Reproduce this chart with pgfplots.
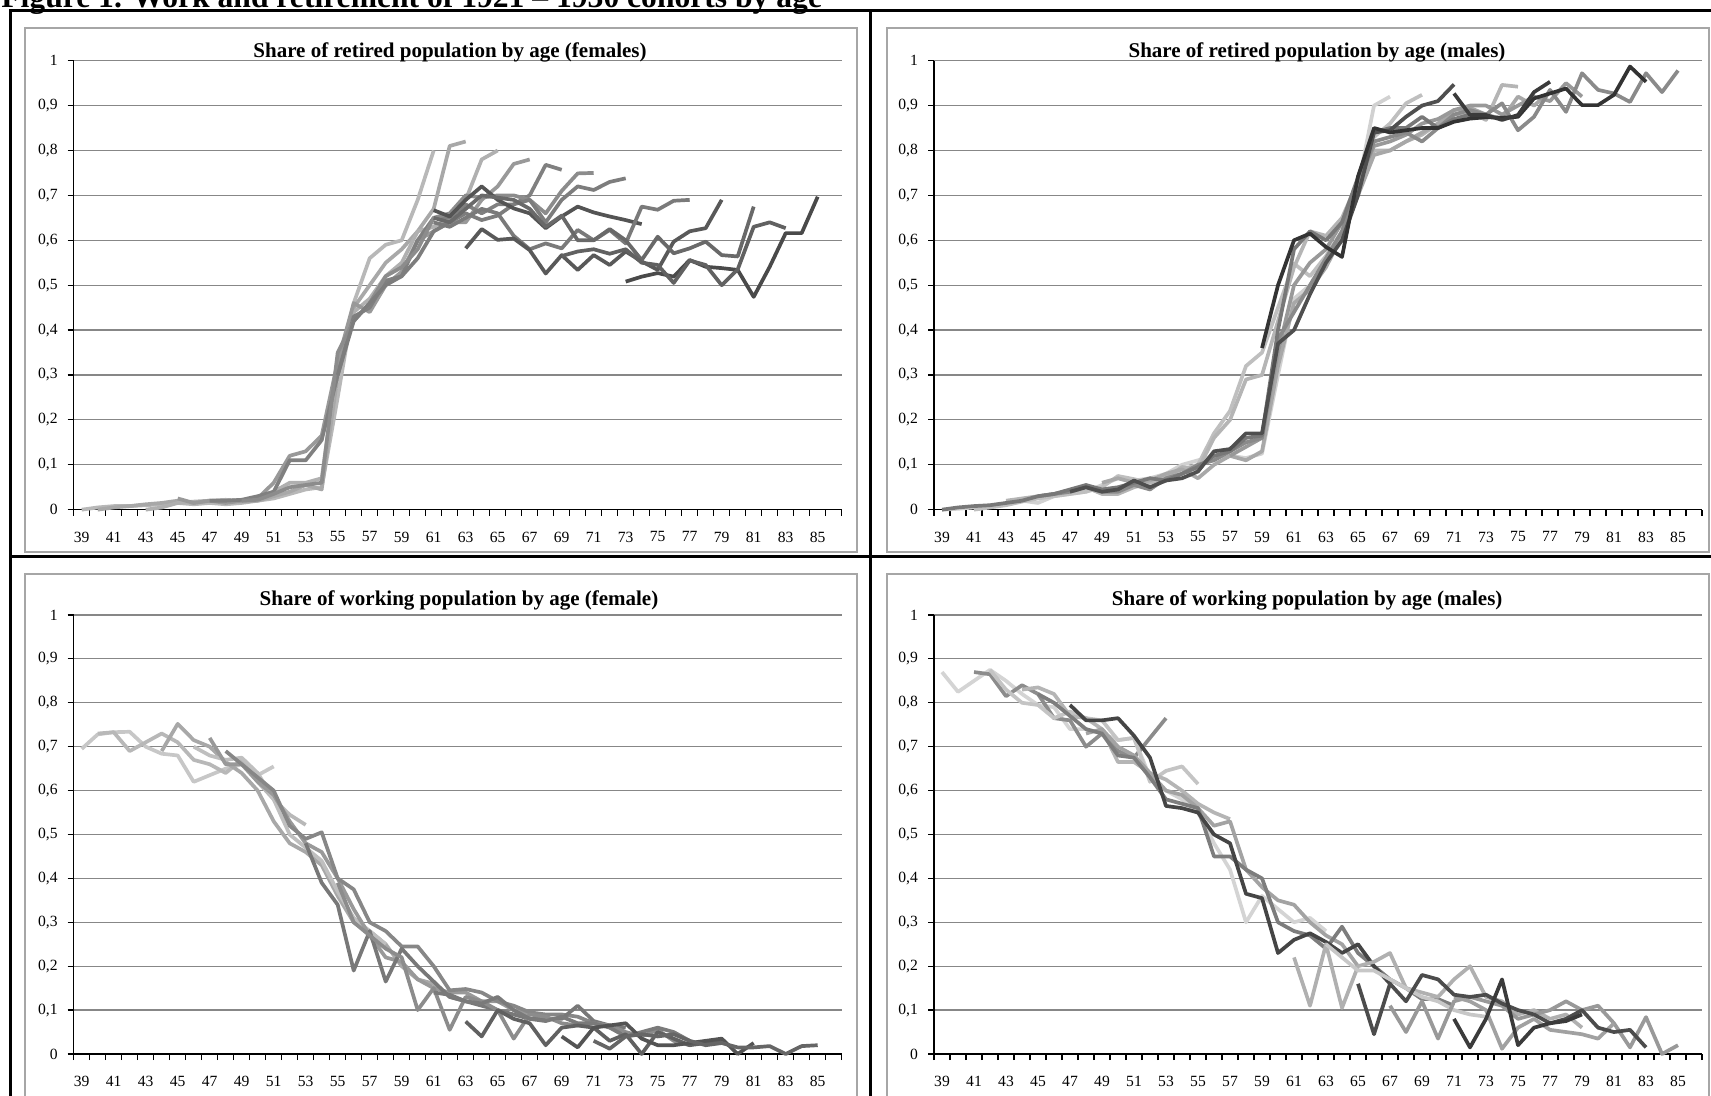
\documentclass[border=0pt]{standalone}
\usepackage{fontspec}
\setmainfont{Liberation Serif}
\usepackage{pgfplots}
\pgfplotsset{compat=1.18}
\pgfplotsset{
 panel/.style={
   scale only axis, width=384pt,
   xmin=38.5, xmax=86.5, ymin=0, ymax=1,
   axis x line*=bottom, axis y line*=left,
   axis line style={black, line width=0.7pt, -},
   xtick={39,41,...,85},
   minor xtick={38.5,39.5,...,86.5},
   ytick={0,0.1,0.2,0.3,0.4,0.5,0.6,0.7,0.8,0.9,1},
   yticklabels={0,{0,1},{0,2},{0,3},{0,4},{0,5},{0,6},{0,7},{0,8},{0,9},1},
   tick align=outside,
   major tick length=3pt, minor tick length=3pt,
   tick style={black, line width=0.6pt},
   major x tick style={draw=none},
   ymajorgrids, grid style={color=black!47, line width=0.6pt},
   tick label style={font=\fontsize{7.8}{9}\selectfont},
   /pgf/number format/assume math mode=true,
   xticklabel style={yshift=-4.5pt},
   yticklabel style={xshift=-1.5pt},
   clip=false,
   every axis plot/.append style={line width=1.85pt, line join=round},
 }}
\begin{document}
\begin{tikzpicture}
\path[use as bounding box] (0,0) rectangle (855.5pt,548pt);
% figure title (cut at top, as in the source)
\node[anchor=base west, inner sep=0pt, font=\fontsize{15.8}{17}\selectfont\bfseries] at (0.5pt,544pt) {Figure 1. Work and retirement of 1921 – 1930 cohorts by age};
% chart frames
\draw[black!35, line width=0.8pt] (12.5pt,272pt) rectangle (428.5pt,534pt);
\draw[black!35, line width=0.8pt] (443.5pt,272pt) rectangle (854.5pt,534pt);
\draw[black!35, line width=0.8pt] (12.5pt,-5pt) rectangle (428.5pt,261pt);
\draw[black!35, line width=0.8pt] (443.5pt,-5pt) rectangle (854.5pt,261pt);
% table lines
\draw[black, line width=1.5pt] (5pt,-5pt) -- (5pt,542.65pt) -- (870pt,542.65pt);
\draw[black, line width=1.5pt] (435.25pt,-5pt) -- (435.25pt,542.65pt);
\draw[black, line width=1.5pt] (5pt,269.75pt) -- (870pt,269.75pt);

% ---------------- Top left: retired females
\begin{axis}[panel, height=224.5pt, at={(36.85pt,293.15pt)}, anchor=south west]
\addplot[black!28] coordinates {(39,0.000)(40,0.005)(41,0.008)(42,0.008)(43,0.010)(44,0.012)(45,0.015)(46,0.012)(47,0.015)(48,0.012)(49,0.015)(50,0.020)(51,0.025)(52,0.035)(53,0.045)(54,0.050)(55,0.250)(56,0.460)(57,0.560)(58,0.590)(59,0.600)(60,0.690)(61,0.800)};
\addplot[black!34] coordinates {(40,0.000)(41,0.005)(42,0.008)(43,0.012)(44,0.015)(45,0.020)(46,0.015)(47,0.020)(48,0.020)(49,0.018)(50,0.020)(51,0.030)(52,0.040)(53,0.055)(54,0.045)(55,0.300)(56,0.450)(57,0.500)(58,0.550)(59,0.580)(60,0.620)(61,0.670)(62,0.810)(63,0.820)};
\addplot[black!31] coordinates {(43,0.000)(44,0.005)(45,0.015)(46,0.018)(47,0.020)(48,0.022)(49,0.020)(50,0.025)(51,0.040)(52,0.060)(53,0.060)(54,0.070)(55,0.330)(56,0.440)(57,0.470)(58,0.520)(59,0.550)(60,0.620)(61,0.630)(62,0.650)(63,0.690)(64,0.780)(65,0.800)};
\addplot[black!40] coordinates {(45,0.025)(46,0.015)(47,0.020)(48,0.015)(49,0.020)(50,0.025)(51,0.060)(52,0.120)(53,0.130)(54,0.165)(55,0.330)(56,0.460)(57,0.440)(58,0.500)(59,0.530)(60,0.600)(61,0.620)(62,0.640)(63,0.640)(64,0.690)(65,0.720)(66,0.770)(67,0.780)};
\addplot[black!50] coordinates {(47,0.020)(48,0.020)(49,0.022)(50,0.030)(51,0.040)(52,0.110)(53,0.110)(54,0.155)(55,0.300)(56,0.430)(57,0.450)(58,0.510)(59,0.520)(60,0.600)(61,0.650)(62,0.650)(63,0.680)(64,0.660)(65,0.680)(66,0.680)(67,0.700)(68,0.768)(69,0.757)};
\addplot[black!45] coordinates {(49,0.020)(50,0.022)(51,0.035)(52,0.050)(53,0.055)(54,0.060)(55,0.350)(56,0.420)(57,0.460)(58,0.520)(59,0.540)(60,0.580)(61,0.650)(62,0.660)(63,0.700)(64,0.695)(65,0.700)(66,0.700)(67,0.690)(68,0.660)(69,0.710)(70,0.749)(71,0.750)};
\addplot[black!51] coordinates {(55,0.300)(56,0.420)(57,0.460)(58,0.500)(59,0.520)(60,0.560)(61,0.620)(62,0.640)(63,0.660)(64,0.645)(65,0.655)(66,0.680)(67,0.690)(68,0.640)(69,0.690)(70,0.720)(71,0.712)(72,0.730)(73,0.738)};
\addplot[black!67] coordinates {(61,0.667)(62,0.653)(63,0.690)(64,0.720)(65,0.690)(66,0.671)(67,0.660)(68,0.627)(69,0.653)(70,0.675)(71,0.662)(72,0.653)(73,0.645)(74,0.636)};
\addplot[black!52] coordinates {(61,0.640)(62,0.630)(63,0.650)(64,0.670)(65,0.660)(66,0.610)(67,0.580)(68,0.593)(69,0.582)(70,0.623)(71,0.600)(72,0.623)(73,0.593)(74,0.675)(75,0.668)(76,0.688)(77,0.690)};
\addplot[black!65] coordinates {(63,0.582)(64,0.625)(65,0.601)(66,0.604)(67,0.578)(68,0.526)(69,0.567)(70,0.534)(71,0.567)(72,0.545)(73,0.575)(74,0.553)(75,0.534)(76,0.597)(77,0.620)(78,0.627)(79,0.690)};
\addplot[black!59] coordinates {(61,0.650)(62,0.640)(63,0.670)(64,0.700)(65,0.695)(66,0.690)(67,0.670)(68,0.630)(69,0.655)(70,0.600)(71,0.600)(72,0.625)(73,0.600)(74,0.556)(75,0.608)(76,0.571)(77,0.582)(78,0.597)(79,0.567)(80,0.564)(81,0.675)};
\addplot[black!71] coordinates {(73,0.508)(74,0.519)(75,0.527)(76,0.519)(77,0.556)(78,0.541)(79,0.538)(80,0.534)(81,0.474)(82,0.541)(83,0.616)(84,0.616)(85,0.697)};
\addplot[black!62] coordinates {(69,0.565)(70,0.575)(71,0.580)(72,0.570)(73,0.580)(74,0.550)(75,0.545)(76,0.505)(77,0.555)(78,0.545)(79,0.500)(80,0.535)(81,0.630)(82,0.640)(83,0.627)};
\end{axis}

% ---------------- Top right: retired males
\begin{axis}[panel, height=224.5pt, at={(467pt,293.15pt)}, anchor=south west]
\addplot[black!18] coordinates {(39,0.000)(40,0.002)(41,0.005)(42,0.008)(43,0.012)(44,0.020)(45,0.015)(46,0.030)(47,0.035)(48,0.040)(49,0.055)(50,0.070)(51,0.065)(52,0.070)(53,0.080)(54,0.100)(55,0.110)(56,0.120)(57,0.120)(58,0.115)(59,0.125)(60,0.300)(61,0.470)(62,0.500)(63,0.550)(64,0.620)(65,0.720)(66,0.900)(67,0.920)};
\addplot[black!25] coordinates {(41,0.000)(42,0.005)(43,0.010)(44,0.018)(45,0.025)(46,0.030)(47,0.035)(48,0.040)(49,0.050)(50,0.075)(51,0.068)(52,0.060)(53,0.075)(54,0.090)(55,0.100)(56,0.170)(57,0.220)(58,0.320)(59,0.350)(60,0.450)(61,0.548)(62,0.520)(63,0.565)(64,0.620)(65,0.720)(66,0.830)(67,0.860)(68,0.905)(69,0.924)};
\addplot[black!29] coordinates {(43,0.020)(44,0.025)(45,0.030)(46,0.035)(47,0.040)(48,0.050)(49,0.035)(50,0.035)(51,0.050)(52,0.060)(53,0.070)(54,0.095)(55,0.090)(56,0.160)(57,0.200)(58,0.290)(59,0.300)(60,0.420)(61,0.540)(62,0.620)(63,0.610)(64,0.650)(65,0.730)(66,0.800)(67,0.800)(68,0.820)(69,0.835)(70,0.860)(71,0.880)(72,0.885)(73,0.868)(74,0.946)(75,0.942)};
\addplot[black!34] coordinates {(49,0.060)(50,0.070)(51,0.060)(52,0.065)(53,0.080)(54,0.090)(55,0.070)(56,0.100)(57,0.120)(58,0.110)(59,0.130)(60,0.320)(61,0.460)(62,0.490)(63,0.540)(64,0.610)(65,0.700)(66,0.790)(67,0.800)(68,0.820)(69,0.840)(70,0.860)(71,0.890)(72,0.895)(73,0.880)(74,0.870)(75,0.920)(76,0.900)(77,0.930)};
\addplot[black!40] coordinates {(57,0.120)(58,0.140)(59,0.160)(60,0.350)(61,0.500)(62,0.550)(63,0.580)(64,0.640)(65,0.730)(66,0.810)(67,0.820)(68,0.835)(69,0.860)(70,0.870)(71,0.890)(72,0.900)(73,0.900)(74,0.880)(75,0.900)(76,0.920)(77,0.910)(78,0.950)(79,0.920)};
\addplot[black!46] coordinates {(45,0.030)(46,0.035)(47,0.040)(48,0.050)(49,0.040)(50,0.040)(51,0.055)(52,0.045)(53,0.070)(54,0.080)(55,0.100)(56,0.110)(57,0.130)(58,0.150)(59,0.160)(60,0.380)(61,0.440)(62,0.500)(63,0.560)(64,0.620)(65,0.720)(66,0.820)(67,0.830)(68,0.840)(69,0.820)(70,0.850)(71,0.880)(72,0.890)(73,0.880)(74,0.905)(75,0.845)(76,0.875)(77,0.935)(78,0.886)(79,0.972)(80,0.935)(81,0.927)(82,0.908)(83,0.972)(84,0.930)(85,0.978)};
\addplot[black!53] coordinates {(39,0.000)(40,0.005)(41,0.008)(42,0.010)(43,0.015)(44,0.020)(45,0.030)(46,0.035)(47,0.045)(48,0.055)(49,0.045)(50,0.050)(51,0.060)(52,0.070)(53,0.065)(54,0.080)(55,0.095)(56,0.120)(57,0.130)(58,0.160)(59,0.165)(60,0.400)(61,0.580)(62,0.620)(63,0.600)(64,0.640)(65,0.740)(66,0.840)(67,0.850)(68,0.850)(69,0.875)(70,0.850)(71,0.870)(72,0.880)(73,0.880)};
\addplot[black!69] coordinates {(47,0.040)(48,0.050)(49,0.040)(50,0.045)(51,0.065)(52,0.050)(53,0.065)(54,0.070)(55,0.085)(56,0.130)(57,0.135)(58,0.170)(59,0.170)(60,0.370)(61,0.400)(62,0.480)(63,0.550)(64,0.600)(65,0.700)(66,0.840)(67,0.845)(68,0.875)(69,0.900)(70,0.910)(71,0.947)};
\addplot[black!80] coordinates {(59,0.360)(60,0.500)(61,0.600)(62,0.615)(63,0.585)(64,0.563)(65,0.742)(66,0.850)(67,0.840)(68,0.845)(69,0.850)(70,0.850)(71,0.864)(72,0.871)(73,0.874)(74,0.873)(75,0.875)(76,0.916)(77,0.927)(78,0.938)(79,0.901)(80,0.901)(81,0.924)(82,0.987)(83,0.953)};
\addplot[black!77] coordinates {(71,0.927)(72,0.879)(73,0.879)(74,0.868)(75,0.879)(76,0.930)(77,0.953)};
\end{axis}

% ---------------- Bottom left: working females
\begin{axis}[panel, height=219.5pt, at={(36.85pt,21pt)}, anchor=south west]
\addplot[black!22] coordinates {(39,0.695)(40,0.728)(41,0.733)(42,0.734)(43,0.700)(44,0.684)(45,0.680)(46,0.620)(47,0.635)(48,0.650)(49,0.660)(50,0.635)(51,0.655)};
\addplot[black!28] coordinates {(40,0.730)(41,0.733)(42,0.690)(43,0.710)(44,0.730)(45,0.710)(46,0.670)(47,0.660)(48,0.640)(49,0.670)(50,0.620)(51,0.580)(52,0.545)(53,0.522)};
\addplot[black!34] coordinates {(44,0.690)(45,0.752)(46,0.715)(47,0.700)(48,0.665)(49,0.640)(50,0.600)(51,0.530)(52,0.480)(53,0.460)(54,0.430)(55,0.360)(56,0.300)(57,0.280)(58,0.250)(59,0.200)(60,0.170)(61,0.160)(62,0.130)(63,0.120)};
\addplot[black!25] coordinates {(46,0.700)(47,0.680)(48,0.670)(49,0.675)(50,0.640)(51,0.580)(52,0.500)(53,0.470)(54,0.440)(55,0.370)(56,0.310)(57,0.280)(58,0.250)};
\addplot[black!40] coordinates {(47,0.720)(48,0.660)(49,0.660)(50,0.620)(51,0.590)(52,0.530)(53,0.480)(54,0.460)(55,0.400)(56,0.330)(57,0.270)(58,0.220)(59,0.210)(60,0.170)(61,0.150)(62,0.140)(63,0.140)(64,0.120)(65,0.120)(66,0.100)(67,0.090)};
\addplot[black!47] coordinates {(48,0.690)(49,0.660)(50,0.630)(51,0.600)(52,0.520)(53,0.490)(54,0.505)(55,0.400)(56,0.375)(57,0.300)(58,0.280)(59,0.245)(60,0.245)(61,0.200)(62,0.145)(63,0.148)(64,0.140)(65,0.120)(66,0.110)(67,0.095)(68,0.090)(69,0.090)(70,0.085)(71,0.070)};
\addplot[black!53] coordinates {(53,0.480)(54,0.390)(55,0.340)(56,0.190)(57,0.280)(58,0.165)(59,0.240)(60,0.200)(61,0.165)(62,0.130)(63,0.120)(64,0.110)(65,0.100)(66,0.090)(67,0.080)(68,0.080)(69,0.080)(70,0.110)(71,0.075)(72,0.065)(73,0.060)};
\addplot[black!45] coordinates {(55,0.390)(56,0.300)(57,0.270)(58,0.240)(59,0.220)(60,0.100)(61,0.150)(62,0.055)(63,0.130)(64,0.120)(65,0.100)(66,0.035)(67,0.090)(68,0.085)(69,0.070)(70,0.065)(71,0.070)(72,0.065)(73,0.050)(74,0.040)(75,0.055)(76,0.030)(77,0.020)};
\addplot[black!52] coordinates {(61,0.140)(62,0.135)(63,0.120)(64,0.115)(65,0.130)(66,0.100)(67,0.080)(68,0.075)(69,0.085)(70,0.070)(71,0.070)(72,0.060)(73,0.040)(74,0.050)(75,0.060)(76,0.050)(77,0.030)};
\addplot[black!62] coordinates {(63,0.074)(64,0.040)(65,0.100)(66,0.080)(67,0.070)(68,0.020)(69,0.060)(70,0.065)(71,0.060)(72,0.030)(73,0.045)(74,0.000)(75,0.050)(76,0.035)(77,0.020)(78,0.025)(79,0.030)};
\addplot[black!67] coordinates {(69,0.040)(70,0.015)(71,0.060)(72,0.065)(73,0.070)(74,0.035)(75,0.020)(76,0.020)(77,0.025)(78,0.030)(79,0.035)(80,0.000)(81,0.025)};
\addplot[black!60] coordinates {(71,0.030)(72,0.012)(73,0.040)(74,0.045)(75,0.040)(76,0.045)(77,0.030)(78,0.020)(79,0.025)(80,0.015)(81,0.015)(82,0.018)(83,0.000)(84,0.018)(85,0.020)};
\end{axis}

% ---------------- Bottom right: working males
\begin{axis}[panel, height=219.5pt, at={(467pt,21pt)}, anchor=south west]
\addplot[black!17] coordinates {(39,0.870)(40,0.825)(41,0.850)(42,0.875)(43,0.850)(44,0.820)(45,0.795)(46,0.790)(47,0.740)(48,0.740)(49,0.730)(50,0.715)(51,0.720)(52,0.630)(53,0.600)(54,0.580)(55,0.550)(56,0.480)(57,0.420)(58,0.300)(59,0.360)(60,0.330)(61,0.300)(62,0.310)(63,0.280)};
\addplot[black!45] coordinates {(41,0.870)(42,0.865)(43,0.815)(44,0.840)(45,0.820)(46,0.765)(47,0.760)(48,0.700)(49,0.730)(50,0.690)(51,0.675)(52,0.720)(53,0.765)};
\addplot[black!23] coordinates {(42,0.875)(43,0.830)(44,0.800)(45,0.795)(46,0.765)(47,0.780)(48,0.765)(49,0.760)(50,0.715)(51,0.720)(52,0.620)(53,0.645)(54,0.655)(55,0.615)};
\addplot[black!29] coordinates {(44,0.830)(45,0.835)(46,0.820)(47,0.770)(48,0.765)(49,0.740)(50,0.665)(51,0.665)(52,0.640)(53,0.625)(54,0.600)(55,0.570)(56,0.550)(57,0.535)};
\addplot[black!36] coordinates {(48,0.730)(49,0.740)(50,0.700)(51,0.680)(52,0.640)(53,0.600)(54,0.590)(55,0.560)(56,0.520)(57,0.530)(58,0.420)(59,0.380)(60,0.350)(61,0.340)(62,0.300)(63,0.270)(64,0.250)(65,0.200)};
\addplot[black!51] coordinates {(45,0.820)(46,0.800)(47,0.770)(48,0.740)(49,0.730)(50,0.680)(51,0.675)(52,0.630)(53,0.580)(54,0.570)(55,0.560)(56,0.450)(57,0.450)(58,0.420)(59,0.400)(60,0.300)(61,0.280)(62,0.270)(63,0.240)(64,0.290)(65,0.230)(66,0.200)(67,0.170)(68,0.150)(69,0.125)(70,0.125)(71,0.110)};
\addplot[black!73] coordinates {(47,0.795)(48,0.760)(49,0.760)(50,0.765)(51,0.725)(52,0.675)(53,0.565)(54,0.560)(55,0.550)(56,0.500)(57,0.480)(58,0.365)(59,0.355)(60,0.230)(61,0.260)(62,0.275)(63,0.255)(64,0.230)(65,0.250)(66,0.200)(67,0.160)};
\addplot[black!31] coordinates {(61,0.220)(62,0.110)(63,0.250)(64,0.105)(65,0.200)(66,0.210)(67,0.230)(68,0.150)(69,0.140)(70,0.130)(71,0.170)(72,0.200)(73,0.130)(74,0.120)(75,0.090)(76,0.100)(77,0.080)(78,0.090)(79,0.060)};
\addplot[black!22] coordinates {(63,0.250)(64,0.220)(65,0.190)(66,0.190)(67,0.170)(68,0.150)(69,0.130)(70,0.120)(71,0.100)(72,0.090)(73,0.085)};
\addplot[black!40] coordinates {(67,0.110)(68,0.050)(69,0.120)(70,0.035)(71,0.120)(72,0.130)(73,0.120)(74,0.110)(75,0.080)(76,0.090)(77,0.100)(78,0.120)(79,0.100)(80,0.110)(81,0.070)(82,0.015)(83,0.084)(84,0.000)(85,0.020)};
\addplot[black!37] coordinates {(71,0.130)(72,0.120)(73,0.100)(74,0.012)(75,0.060)(76,0.080)(77,0.055)(78,0.050)(79,0.045)(80,0.035)(81,0.070)};
\addplot[black!70] coordinates {(65,0.160)(66,0.045)(67,0.160)(68,0.120)(69,0.180)(70,0.170)(71,0.135)(72,0.130)(73,0.135)(74,0.115)(75,0.100)(76,0.090)(77,0.070)(78,0.080)(79,0.100)(80,0.060)(81,0.050)(82,0.055)(83,0.015)};
\addplot[black!77] coordinates {(71,0.080)(72,0.015)(73,0.080)(74,0.170)(75,0.020)(76,0.060)(77,0.070)(78,0.075)(79,0.090)};
\end{axis}

% panel titles
\node[anchor=base, inner sep=0pt, font=\fontsize{10.5}{12}\selectfont\bfseries] at (225pt,519.25pt) {Share of retired population by age (females)};
\node[anchor=base, inner sep=0pt, font=\fontsize{10.5}{12}\selectfont\bfseries] at (658.5pt,519.25pt) {Share of retired population by age (males)};
\node[anchor=base, inner sep=0pt, font=\fontsize{10.5}{12}\selectfont\bfseries] at (229.5pt,245.25pt) {Share of working population by age (female)};
\node[anchor=base, inner sep=0pt, font=\fontsize{10.5}{12}\selectfont\bfseries] at (653.6pt,245.25pt) {Share of working population by age (males)};
\end{tikzpicture}
\end{document}
